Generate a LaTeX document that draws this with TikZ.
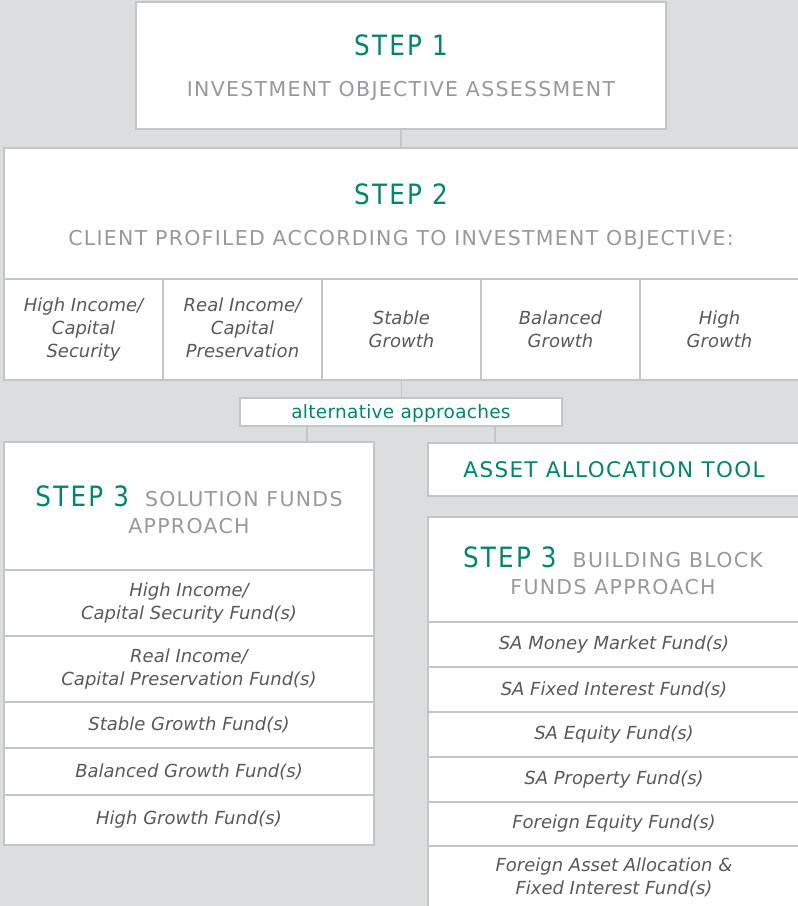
\documentclass[tikz,border=0pt]{standalone}
\usepackage{fontspec}
\setmainfont{DejaVu Sans}
\newfontfamily\stepfont[FakeStretch=0.88,LetterSpace=8]{DejaVu Sans}
\newfontfamily\capsfont[LetterSpace=6.3]{DejaVu Sans}
\newfontfamily\altfont[LetterSpace=1.5]{DejaVu Sans}
\definecolor{bgc}{RGB}{220,221,223}
\definecolor{edgec}{RGB}{196,197,199}
\definecolor{stepgreen}{RGB}{0,134,110}
\definecolor{capsgrey}{RGB}{153,153,156}
\definecolor{textgrey}{RGB}{89,89,91}
\begin{document}
\begin{tikzpicture}[x=1pt,y=-1pt,
  box/.style={draw=edgec, line width=1.6pt, fill=white, inner sep=0pt, outer sep=0pt, anchor=north west},
  cell/.style={box, align=center, text=textgrey, font=\itshape\fontsize{18}{23}\selectfont},
  conn/.style={draw=edgec, line width=1.6pt},
  steptxt/.style={anchor=base, inner sep=0pt, text=stepgreen, font=\stepfont\fontsize{28}{30}\selectfont},
  capstxt/.style={anchor=base, inner sep=0pt, text=capsgrey, font=\capsfont\fontsize{20.5}{24}\selectfont},
  mixtxt/.style={anchor=base, inner sep=0pt}
]
\useasboundingbox (0,0) rectangle (798,906);
\fill[bgc] (0,0) rectangle (798,906);

% STEP 1
\node[box, minimum width=530pt, minimum height=127pt] (s1) at (136,2) {};
\node[steptxt] (t1a) at (401,55) {STEP 1};
\node[capstxt] (t1b) at (401,96) {INVESTMENT OBJECTIVE ASSESSMENT};

% STEP 2
\node[box, minimum width=796pt, minimum height=131pt] (s2) at (4,148) {};
\node[steptxt] (t2a) at (401,204) {STEP 2};
\node[capstxt] (t2b) at (401,245) {CLIENT PROFILED ACCORDING TO INVESTMENT OBJECTIVE:};

% objective cells
\node[cell, minimum width=159pt, minimum height=101pt] (c1) at (4,279) {High Income/\\Capital\\Security};
\node[cell, minimum width=159pt, minimum height=101pt] (c2) at (163,279) {Real Income/\\Capital\\Preservation\rule[-0.25em]{0pt}{0pt}};
\node[cell, minimum width=159pt, minimum height=101pt] (c3) at (322,279) {Stable\\Growth};
\node[cell, minimum width=159pt, minimum height=101pt] (c4) at (481,279) {Balanced\\Growth};
\node[cell, minimum width=159pt, minimum height=101pt] (c5) at (640,279) {High\\Growth};

% alternative approaches
\node[box, minimum width=322pt, minimum height=28pt] (alt) at (240,398) {};
\node[mixtxt, text=stepgreen, font=\altfont\fontsize{18.5}{22}\selectfont] (altt) at (401,418) {alternative approaches};

% left STEP 3
\node[box, minimum width=370pt, minimum height=128pt] (l3) at (4,442) {};
\node[mixtxt] (l3a) at (189,506) {{\stepfont\fontsize{28}{30}\selectfont\color{stepgreen}STEP 3}\hspace{16pt}{\capsfont\fontsize{20.5}{24}\selectfont\color{capsgrey}SOLUTION FUNDS}};
\node[capstxt] (l3b) at (189,533) {APPROACH};
\node[cell, minimum width=370pt, minimum height=66pt] (l1) at (4,570) {High Income/\\Capital Security Fund(s)};
\node[cell, minimum width=370pt, minimum height=66pt] (l2) at (4,636) {Real Income/\\Capital Preservation Fund(s)};
\node[cell, minimum width=370pt, minimum height=46pt] (l4) at (4,702) {Stable Growth Fund(s)};
\node[cell, minimum width=370pt, minimum height=47pt] (l5) at (4,748) {Balanced Growth Fund(s)};
\node[cell, minimum width=370pt, minimum height=50pt] (l6) at (4,795) {High Growth Fund(s)};

% asset allocation tool
\node[box, minimum width=372pt, minimum height=53pt, text=stepgreen, font=\capsfont\fontsize{21.5}{24}\selectfont] (aat) at (428,443) {ASSET ALLOCATION TOOL};

% right STEP 3
\node[box, minimum width=372pt, minimum height=105pt] (r3) at (428,517) {};
\node[mixtxt] (r3a) at (613,567) {{\stepfont\fontsize{28}{30}\selectfont\color{stepgreen}STEP 3}\hspace{16pt}{\capsfont\fontsize{20.5}{24}\selectfont\color{capsgrey}BUILDING BLOCK}};
\node[capstxt] (r3b) at (613,594) {FUNDS APPROACH};
\node[cell, minimum width=372pt, minimum height=45pt] (q1) at (428,622) {SA Money Market Fund(s)};
\node[cell, minimum width=372pt, minimum height=45pt] (q2) at (428,667) {SA Fixed Interest Fund(s)};
\node[cell, minimum width=372pt, minimum height=45pt] (q3) at (428,712) {SA Equity Fund(s)};
\node[cell, minimum width=372pt, minimum height=45pt] (q4) at (428,757) {SA Property Fund(s)};
\node[cell, minimum width=372pt, minimum height=44pt] (q5) at (428,802) {Foreign Equity Fund(s)};
\node[cell, minimum width=372pt, minimum height=63pt] (q6) at (428,846) {Foreign Asset Allocation \&\\Fixed Interest Fund(s)};

% connectors
\draw[conn] (s1.south) -- (s1.south |- s2.north);
\draw[conn] (c3.south) -- (c3.south |- alt.north);
\coordinate (aL) at (307,426);
\coordinate (aR) at (495,426);
\draw[conn] (aL) -- (aL |- l3.north);
\draw[conn] (aR) -- (aR |- aat.north);
\end{tikzpicture}
\end{document}
